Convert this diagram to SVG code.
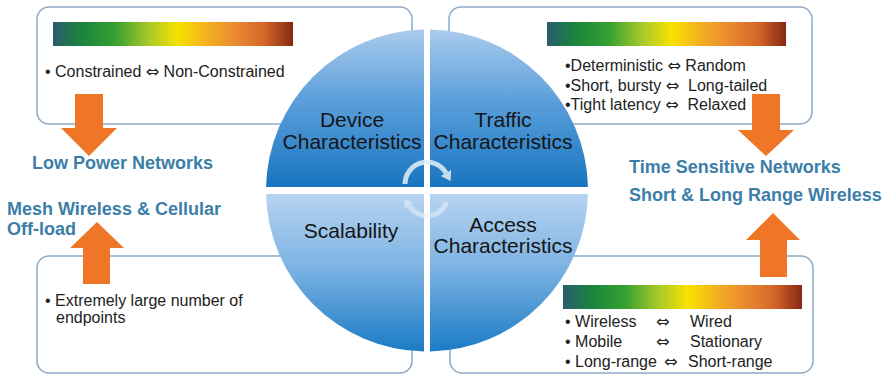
<svg xmlns="http://www.w3.org/2000/svg" width="893" height="374" viewBox="0 0 893 374">
<defs>
<linearGradient id="spec" x1="0" y1="0" x2="1" y2="0">
<stop offset="0" stop-color="#2a5c6c"/>
<stop offset="0.12" stop-color="#1a853c"/>
<stop offset="0.26" stop-color="#36a032"/>
<stop offset="0.40" stop-color="#a9c92a"/>
<stop offset="0.52" stop-color="#f6e200"/>
<stop offset="0.63" stop-color="#f3b51c"/>
<stop offset="0.76" stop-color="#eb8a32"/>
<stop offset="0.88" stop-color="#d56728"/>
<stop offset="1" stop-color="#862914"/>
</linearGradient>
<linearGradient id="upper" gradientUnits="userSpaceOnUse" x1="0" y1="30" x2="0" y2="187">
<stop offset="0" stop-color="#aacbec"/>
<stop offset="0.45" stop-color="#5b9fdb"/>
<stop offset="1" stop-color="#1874bf"/>
</linearGradient>
<linearGradient id="lower" gradientUnits="userSpaceOnUse" x1="0" y1="194" x2="0" y2="352">
<stop offset="0" stop-color="#b6d3ef"/>
<stop offset="0.45" stop-color="#7fb4e4"/>
<stop offset="1" stop-color="#1a7bc5"/>
</linearGradient>
<style>
.box{fill:#ffffff;stroke:#8ea9c6;stroke-width:1.5}
.bar{fill:url(#spec)}
.body{font-family:"Liberation Sans",Arial,sans-serif;font-size:16px;fill:#222222;white-space:pre}
.ar{font-family:"DejaVu Sans",sans-serif;font-size:16px}
.head{font-family:"Liberation Sans",Arial,sans-serif;font-size:18px;font-weight:bold;fill:#3b7ea8}
.qlabel{font-family:"Liberation Sans",Arial,sans-serif;font-size:21px;fill:#151515;text-anchor:middle}
.arrow{fill:#ee7626}
.cyc{fill:none;stroke:#e4eef8;stroke-width:5;stroke-opacity:0.85}
</style>
</defs>
<rect width="893" height="374" fill="#ffffff"/>

<g id="box-device">
<rect class="box" x="37" y="7" width="375" height="117" rx="12"/>
<rect class="bar" x="53" y="22" width="240" height="24"/>
<text class="body" x="45" y="77">• Constrained <tspan class="ar">⇔</tspan> Non-Constrained</text>
</g>

<g id="box-traffic">
<rect class="box" x="449" y="7" width="363" height="117" rx="12"/>
<rect class="bar" x="547" y="22" width="239" height="24"/>
<text class="body" x="565" y="71">•Deterministic <tspan class="ar">⇔</tspan> Random</text>
<text class="body" x="565" y="91">•Short, bursty <tspan class="ar">⇔</tspan>  Long-tailed</text>
<text class="body" x="565" y="110">•Tight latency <tspan class="ar">⇔</tspan>  Relaxed</text>
</g>

<g id="box-scalability">
<rect class="box" x="37" y="256" width="375" height="117" rx="12"/>
<text class="body" x="45" y="306">• Extremely large number of</text>
<text class="body" x="56" y="323">endpoints</text>
</g>

<g id="box-access">
<rect class="box" x="450" y="256" width="363" height="117" rx="12"/>
<rect class="bar" x="563" y="285" width="239" height="24"/>
<text class="body" x="565" y="327">• Wireless</text>
<text class="body ar" x="656" y="327">⇔</text>
<text class="body" x="690" y="327">Wired</text>
<text class="body" x="565" y="347">• Mobile</text>
<text class="body ar" x="656" y="347">⇔</text>
<text class="body" x="690" y="347">Stationary</text>
<text class="body" x="565" y="367">• Long-range</text>
<text class="body ar" x="664" y="367">⇔</text>
<text class="body" x="688" y="367">Short-range</text>
</g>

<g id="quad-device">
<path d="M424,187 L266.04,187 A161,161 0 0 1 424,29.53 Z" fill="url(#upper)"/>
<text class="qlabel" x="352" y="127">Device</text>
<text class="qlabel" x="352" y="149">Characteristics</text>
</g>
<g id="quad-traffic">
<path d="M430,187 L430,29.53 A161,161 0 0 1 587.96,187 Z" fill="url(#upper)"/>
<text class="qlabel" x="503" y="127">Traffic</text>
<text class="qlabel" x="503" y="149">Characteristics</text>
</g>
<g id="quad-scalability">
<path d="M424,194 L424,351.47 A161,161 0 0 1 266.04,194 Z" fill="url(#lower)"/>
<text class="qlabel" x="351" y="238">Scalability</text>
</g>
<g id="quad-access">
<path d="M430,194 L587.96,194 A161,161 0 0 1 430,351.47 Z" fill="url(#lower)"/>
<text class="qlabel" x="503" y="232">Access</text>
<text class="qlabel" x="503" y="253">Characteristics</text>
</g>

<g id="cycle">
<path class="cyc" d="M405,184 A22,22 0 0 1 446,173"/>
<polygon points="451.2,170 440.8,176 450.5,181" style="fill:#e4eef8;fill-opacity:0.85"/>
<path class="cyc" d="M446.7,202.2 A21,21 0 0 1 409,205.5" style="stroke-opacity:0.6"/>
<polygon points="413.5,202.8 404.2,208.2 404.8,198.6" style="fill:#e4eef8;fill-opacity:0.6"/>
</g>

<g id="label-low-power"><text class="head" x="32" y="169">Low Power Networks</text></g>
<g id="label-mesh"><text class="head" x="7" y="215">Mesh Wireless &amp; Cellular</text><text class="head" x="7" y="235">Off-load</text></g>
<g id="label-tsn"><text class="head" x="629" y="173">Time Sensitive Networks</text></g>
<g id="label-range"><text class="head" x="629" y="201">Short &amp; Long Range Wireless</text></g>

<g id="connectors">
<polygon class="arrow" points="75,94 103,94 103,128 117,128 89,156 61,128 75,128"/>
<polygon class="arrow" points="752,94 780,94 780,130 794,130 766,156 738,130 752,130"/>
<polygon class="arrow" points="83,284 110,284 110,248 124,248 97,222 70,248 83,248"/>
<polygon class="arrow" points="760,277 787,277 787,240 800,240 773,213 746,240 760,240"/>
</g>
</svg>
